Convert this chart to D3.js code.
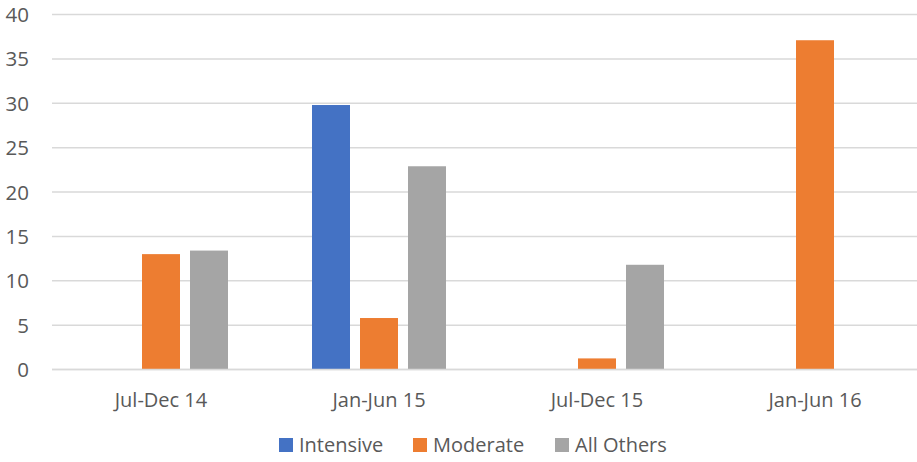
<!DOCTYPE html>
<html><head><meta charset="utf-8">
<script src="https://cdn.jsdelivr.net/npm/d3@7"></script>
<style>body{margin:0;background:#fff;} text{font-family:"Open Sans",sans-serif;fill:#595959;}</style>
</head><body><svg id="c" width="917" height="462"></svg>
<script>
const categories = ["Jul-Dec 14","Jan-Jun 15","Jul-Dec 15","Jan-Jun 16"];
const seriesNames = ["Intensive","Moderate","All Others"];
const intensive = [0, 29.8, 0, 0];
const moderate = [13.0, 5.8, 1.25, 37.1];
const allOthers = [13.4, 22.9, 11.8, 0];
const yTicks = [0,5,10,15,20,25,30,35,40];
const colors = ["#4472C4","#ED7D31","#A5A5A5"];
const seriesValues = [intensive, moderate, allOthers];

const svg = d3.select("#c");
const x0 = d3.scaleBand().domain(categories).range([52, 924]).padding(0);
const groupW = 134;
const x1 = d3.scaleBand().domain(seriesNames).range([0, groupW]).paddingInner(10/48).paddingOuter(0);
const y = d3.scaleLinear().domain([0,40]).range([369.5, 14.5]);

// gridlines
svg.append("g").selectAll("line").data(yTicks).join("line")
  .attr("x1",52).attr("x2",917).attr("y1",d=>y(d)).attr("y2",d=>y(d))
  .attr("stroke","#d9d9d9").attr("stroke-width",1.5);

// y labels
svg.append("g").selectAll("text").data(yTicks).join("text")
  .attr("x",29).attr("y",d=>y(d)+7.5).attr("text-anchor","end")
  .attr("font-size",20.5).text(d=>d);

// bars
const data = [];
categories.forEach((c,i)=>seriesNames.forEach((s,j)=>{ if(seriesValues[j][i]>0) data.push({c,s,v:seriesValues[j][i],j}); }));
svg.append("g").selectAll("rect").data(data).join("rect")
  .attr("x",d=>x0(d.c)+(x0.bandwidth()-groupW)/2+x1(d.s))
  .attr("width",x1.bandwidth())
  .attr("y",d=>y(d.v)).attr("height",d=>y(0)-y(d.v))
  .attr("fill",d=>colors[d.j]);

// redraw zero line on top
svg.append("line").attr("x1",52).attr("x2",917).attr("y1",y(0)).attr("y2",y(0))
  .attr("stroke","#d9d9d9").attr("stroke-width",1.5);

// x labels
svg.append("g").selectAll("text").data(categories).join("text")
  .attr("x",d=>x0(d)+x0.bandwidth()/2).attr("y",407).attr("text-anchor","middle")
  .attr("font-size",20).text(d=>d);

// legend
const legX = [279, 413, 555];
const lg = svg.append("g").selectAll("g").data(seriesNames).join("g")
  .attr("transform",(d,i)=>`translate(${legX[i]},438)`);
lg.append("rect").attr("width",14).attr("height",14).attr("fill",(d,i)=>colors[i]);
lg.append("text").attr("x",20).attr("y",14).attr("font-size",20).text(d=>d);
</script></body></html>
